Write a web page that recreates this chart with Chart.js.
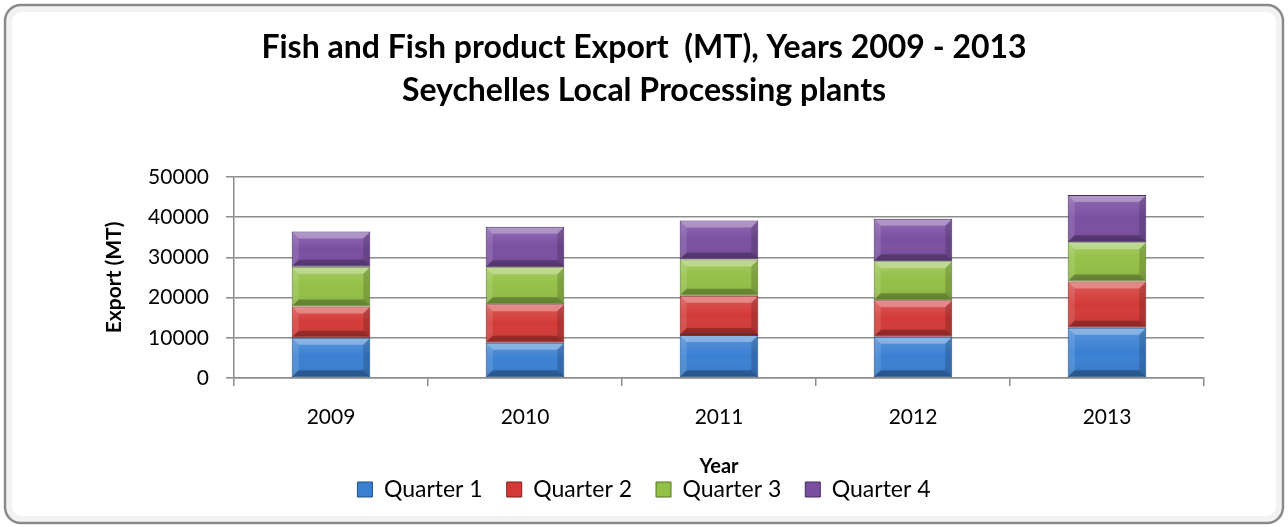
<!DOCTYPE html>
<html>
<head>
<meta charset="utf-8">
<script src="https://cdn.jsdelivr.net/npm/chart.js@4.4.1/dist/chart.umd.min.js"></script>
<style>
  html, body { margin: 0; padding: 0; background: #ffffff; }
  #wrap { width: 1288px; height: 527px; position: relative; }
</style>
</head>
<body>
<div id="wrap"><canvas id="c" width="1288" height="527"></canvas></div>
<script>
// Export tonnage by quarter, Seychelles local processing plants
const years = ['2009', '2010', '2011', '2012', '2013'];
const quarter1 = [10000, 8750, 10700, 10250, 12500];
const quarter2 = [7750, 9600, 9750, 9100, 11500];
const quarter3 = [9900, 9150, 9000, 9650, 9750];
const quarter4 = [8750, 10100, 9700, 10600, 11750];
const seriesNames = ['Quarter 1', 'Quarter 2', 'Quarter 3', 'Quarter 4'];
const titleLines = ['Fish and Fish product Export  (MT), Years 2009 - 2013', 'Seychelles Local Processing plants'];

const FONT = "Lato, 'Liberation Sans', sans-serif";
const colors = ['#3a80d2', '#d33a37', '#93c046', '#7a4fa2'];
const edges = ['#1f4f86', '#7f1f1d', '#56752a', '#45295f'];

// Rounded frame with a soft inner shade around the whole chart
const framePlugin = {
  id: 'frame',
  beforeDraw(chart) {
    const ctx = chart.ctx;
    ctx.save();
    ctx.fillStyle = '#ffffff';
    ctx.fillRect(0, 0, chart.width, chart.height);
    const x = 5, y = 5, w = chart.width - 10, h = chart.height - 9, r = 16;
    ctx.beginPath();
    ctx.roundRect(x + 4, y + 4, w - 8, h - 8, r - 4);
    ctx.strokeStyle = 'rgba(0,0,0,0.05)';
    ctx.lineWidth = 6;
    ctx.stroke();
    ctx.beginPath();
    ctx.roundRect(x, y, w, h, r);
    ctx.strokeStyle = '#8a8a8a';
    ctx.lineWidth = 2.5;
    ctx.stroke();
    ctx.restore();
  }
};

// Bevelled faces on each bar segment
const bevelPlugin = {
  id: 'bevel',
  afterDatasetsDraw(chart) {
    const ctx = chart.ctx;
    const poly = (pts, fill) => {
      ctx.beginPath();
      ctx.moveTo(pts[0][0], pts[0][1]);
      for (let k = 1; k < pts.length; k++) ctx.lineTo(pts[k][0], pts[k][1]);
      ctx.closePath();
      ctx.fillStyle = fill;
      ctx.fill();
    };
    ctx.save();
    chart.data.datasets.forEach((ds, i) => {
      const meta = chart.getDatasetMeta(i);
      if (meta.hidden) return;
      meta.data.forEach(bar => {
        const p = bar.getProps(['x', 'y', 'base', 'width'], true);
        const l = p.x - p.width / 2 + 1, r = p.x + p.width / 2 - 1;
        const t = Math.min(p.y, p.base) + 1, b = Math.max(p.y, p.base) - 1;
        const s = Math.min(6, (b - t) / 3);
        const g = ctx.createLinearGradient(0, t, 0, b);
        g.addColorStop(0, 'rgba(255,255,255,0.16)');
        g.addColorStop(0.5, 'rgba(255,255,255,0)');
        g.addColorStop(1, 'rgba(0,0,0,0.10)');
        ctx.fillStyle = g;
        ctx.fillRect(l, t, r - l, b - t);
        poly([[l, t], [r, t], [r - s, t + s], [l + s, t + s]], 'rgba(255,255,255,0.30)');
        poly([[l, b], [r, b], [r - s, b - s], [l + s, b - s]], 'rgba(0,0,0,0.26)');
        poly([[l, t], [l + s, t + s], [l + s, b - s], [l, b]], 'rgba(255,255,255,0.12)');
        poly([[r, t], [r - s, t + s], [r - s, b - s], [r, b]], 'rgba(0,0,0,0.16)');
      });
    });
    ctx.restore();
  }
};

const valueSets = [quarter1, quarter2, quarter3, quarter4];
const datasets = valueSets.map((vals, i) => ({
  label: seriesNames[i],
  data: vals,
  backgroundColor: colors[i],
  borderColor: edges[i],
  borderWidth: 1,
  borderSkipped: false,
  categoryPercentage: 1.0,
  barPercentage: 0.405
}));

new Chart(document.getElementById('c'), {
  type: 'bar',
  data: { labels: years, datasets },
  plugins: [framePlugin, bevelPlugin],
  options: {
    responsive: false,
    animation: false,
    devicePixelRatio: 1,
    layout: { padding: { left: 84, right: 84, top: 12, bottom: 16 } },
    plugins: {
      title: {
        display: true,
        text: titleLines,
        color: '#000000',
        font: { family: FONT, size: 32, weight: 'bold', lineHeight: 1.34 },
        padding: { top: 14, bottom: 65 }
      },
      legend: {
        position: 'bottom',
        labels: {
          color: '#000000',
          font: { family: FONT, size: 23 },
          boxWidth: 15,
          boxHeight: 15,
          padding: 24,
          generateLabels(chart) {
            return chart.data.datasets.map((d, i) => ({
              text: d.label,
              fillStyle: colors[i],
              strokeStyle: edges[i],
              lineWidth: 1,
              datasetIndex: i,
              hidden: false,
              fontColor: '#000000'
            }));
          }
        }
      },
      tooltip: { enabled: false }
    },
    scales: {
      x: {
        stacked: true,
        offset: true,
        grid: { display: true, offset: true, drawOnChartArea: false, drawTicks: true, tickLength: 8, color: '#8c8c8c', lineWidth: 1.5 },
        border: { display: true, color: '#8c8c8c', width: 1.5 },
        ticks: { color: '#000000', font: { family: FONT, size: 21 }, padding: 18.7 },
        title: { display: true, text: 'Year', color: '#000000', font: { family: FONT, size: 20, weight: 'bold' }, padding: { top: 5.7, bottom: -24.4 } }
      },
      y: {
        stacked: true,
        min: 0,
        max: 50000,
        afterFit(scale) { scale.width = 150; },
        grid: { color: '#8c8c8c', lineWidth: 1.5, drawTicks: true, tickLength: 8 },
        border: { display: true, color: '#8c8c8c', width: 1.5 },
        ticks: { stepSize: 10000, color: '#000000', font: { family: FONT, size: 21 }, padding: 17, callback: v => String(v) },
        title: { display: true, text: 'Export (MT)', color: '#000000', font: { family: FONT, size: 21, weight: 'bold' }, padding: { top: 18, bottom: 0 } }
      }
    }
  }
});
</script>
</body>
</html>
